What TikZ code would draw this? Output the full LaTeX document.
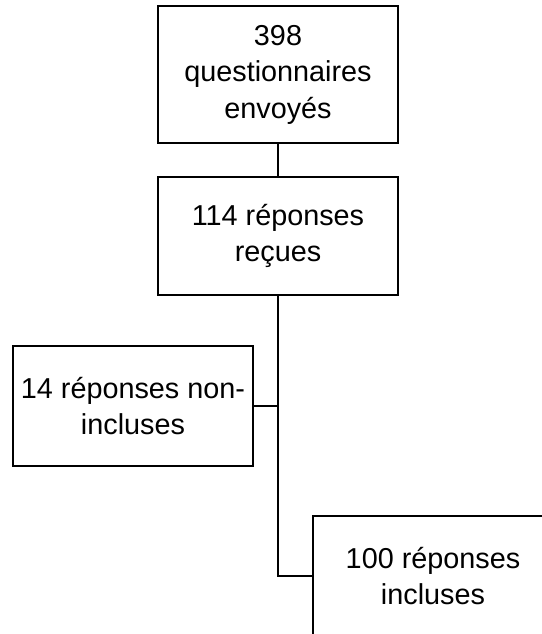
\documentclass[tikz,border=0pt]{standalone}
\usepackage{fontspec}
\setmainfont{Liberation Sans}
\begin{document}
\begin{tikzpicture}[x=1pt,y=-1pt,
  box/.style={draw=black,line width=1.5pt,align=center,inner sep=0pt,
    font=\fontsize{28.8}{36.5}\selectfont},
  conn/.style={draw=black,line width=1.5pt}]
\useasboundingbox (0,0) rectangle (541,634);
\node[box,minimum width=240pt,minimum height=137pt] (a) at (278,74.5) {398\\questionnaires\\envoyés};
\node[box,minimum width=240pt,minimum height=118pt] (b) at (278,236) {114 réponses\\reçues};
\node[box,minimum width=240pt,minimum height=120pt] (c) at (133,406) {14 réponses non-\\incluses};
\node[box,minimum width=240pt,minimum height=120pt] (d) at (433,576) {100 réponses\\incluses};
\path[conn] (a.south) -- (b.north);
\path[conn] (b.south) |- (d.west);
\path[conn] (c.east) -- (c.east -| b.south);
\end{tikzpicture}
\end{document}
